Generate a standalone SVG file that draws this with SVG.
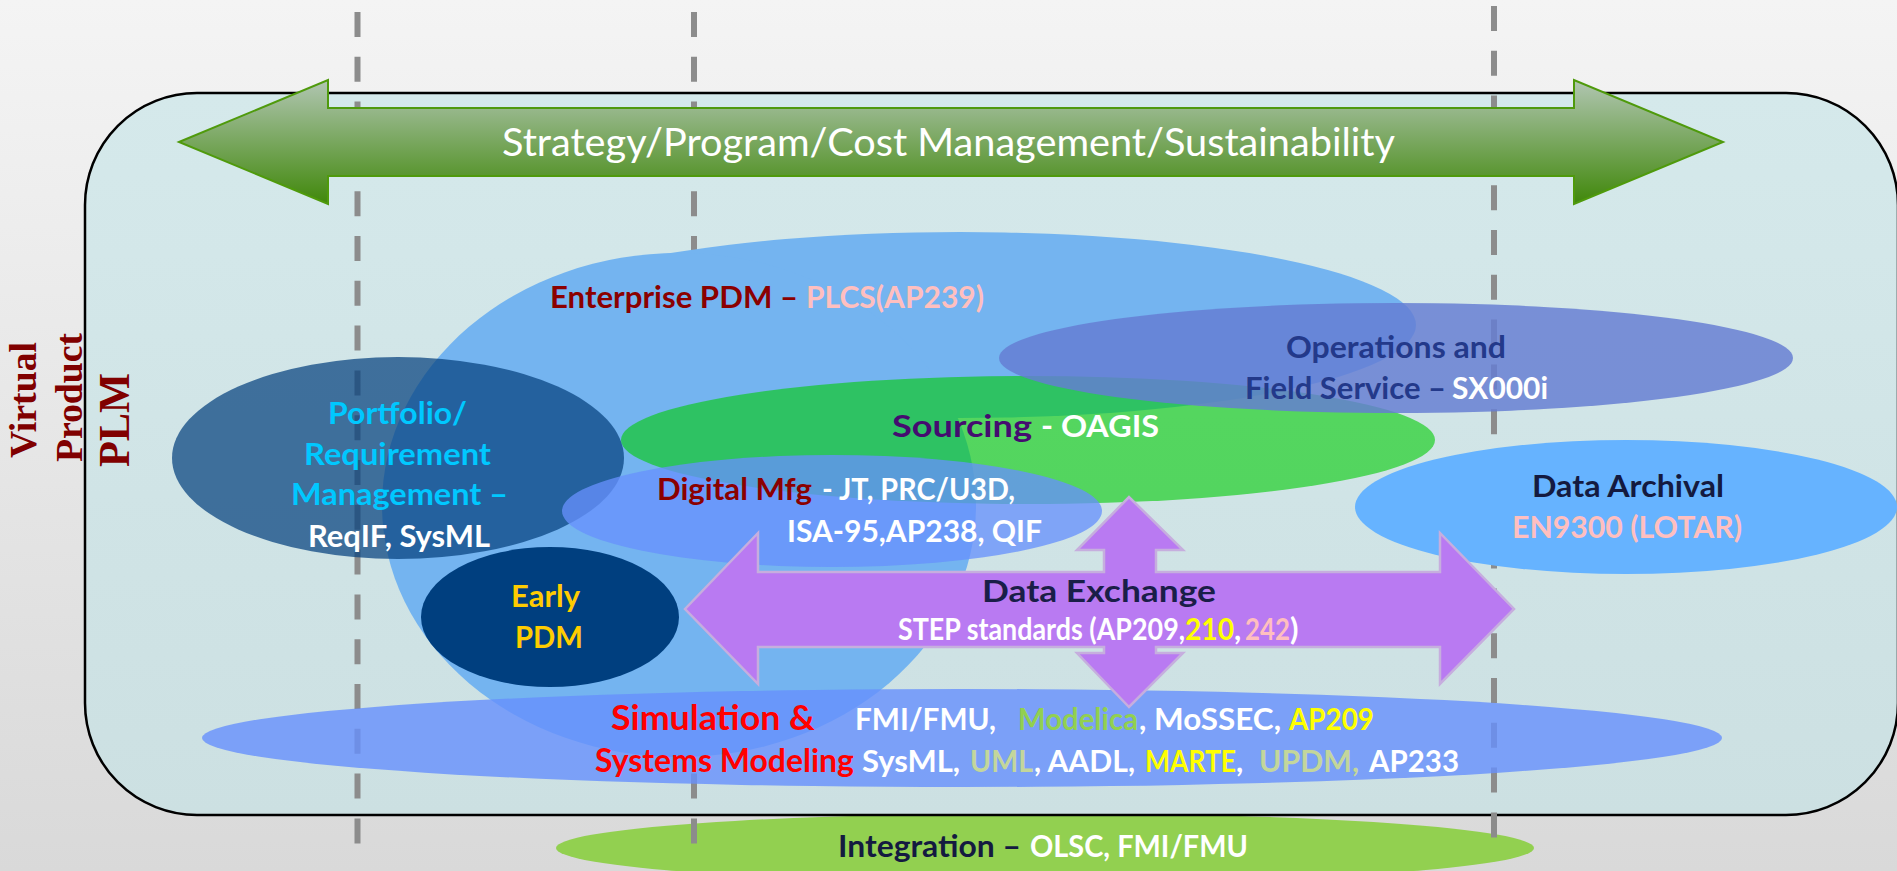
<svg xmlns="http://www.w3.org/2000/svg" width="1897" height="871" viewBox="0 0 1897 871">
<defs>
  <linearGradient id="bg" x1="0" y1="0" x2="0" y2="1">
    <stop offset="0" stop-color="#f4f4f4"/>
    <stop offset="1" stop-color="#d9d9d9"/>
  </linearGradient>
  <linearGradient id="panel" x1="0" y1="0" x2="0" y2="1">
    <stop offset="0" stop-color="#d5e9eb"/>
    <stop offset="1" stop-color="#cce0e2"/>
  </linearGradient>
  <linearGradient id="garrow" x1="0" y1="80" x2="0" y2="204" gradientUnits="userSpaceOnUse">
    <stop offset="0" stop-color="#b1c6b2"/>
    <stop offset="1" stop-color="#40880a"/>
  </linearGradient>
  <style>
    .dash { stroke:#8c8c8c; stroke-width:6; stroke-dasharray:25 19.8; fill:none; }
    .t { font-family: Lato, "Open Sans", "Liberation Sans", sans-serif; font-weight:700; font-size:31px; }
    .serif { font-family: "Liberation Serif", "DejaVu Serif", serif; font-weight:700; fill:#800000; }
    .w { fill:#ffffff; }
    .dred { fill:#8b0000; }
    .pink { fill:#ffbfbf; }
    .cyan { fill:#00c8ff; }
    .gold { fill:#ffcc00; }
    .navy { fill:#141a40; }
    .red { fill:#ff0000; }
    .yel { fill:#ffff00; }
    .lg { fill:#92d050; }
    .olive { fill:#c3d69b; }
  </style>
</defs>

<rect x="0" y="0" width="1897" height="871" fill="url(#bg)"/>

<g id="integration-shape">
  <ellipse cx="1045" cy="848" rx="489" ry="35" fill="#92d050"/>
</g>

<g id="panel-frame">
  <rect x="85" y="93" width="1813" height="722" rx="112" ry="112" fill="url(#panel)" stroke="#000" stroke-width="2.5"/>
</g>

<g id="dividers">
  <line class="dash" x1="357.5" y1="12" x2="357.5" y2="846"/>
  <line class="dash" x1="694" y1="12" x2="694" y2="846"/>
  <line class="dash" x1="1494" y1="6" x2="1494" y2="840"/>
</g>

<g id="side-labels">
  <text class="serif" font-size="38" transform="translate(36,458) rotate(-90)" textLength="116" lengthAdjust="spacingAndGlyphs">Virtual</text>
  <text class="serif" font-size="38" transform="translate(82,462) rotate(-90)" textLength="129" lengthAdjust="spacingAndGlyphs">Product</text>
  <text class="serif" font-size="44" transform="translate(129,467) rotate(-90)" textLength="94" lengthAdjust="spacingAndGlyphs">PLM</text>
</g>

<g id="enterprise-pdm">
  <ellipse cx="960" cy="325" rx="456" ry="93" fill="#74b4f0"/>
  <ellipse cx="679" cy="505" rx="297" ry="252" fill="#74b4f0"/>
  <text class="t" y="308" font-size="30"><tspan class="dred" x="550" textLength="248" lengthAdjust="spacingAndGlyphs">Enterprise PDM –</tspan><tspan class="pink" x="806" textLength="178" lengthAdjust="spacingAndGlyphs">PLCS(AP239)</tspan></text>
</g>

<g id="portfolio">
  <ellipse cx="398" cy="458" rx="226" ry="101" fill="#05417e" fill-opacity="0.72"/>
  <text class="t cyan" x="328" y="424" textLength="139" lengthAdjust="spacingAndGlyphs">Portfolio/</text>
  <text class="t cyan" x="304" y="465" textLength="187" lengthAdjust="spacingAndGlyphs">Requirement</text>
  <text class="t cyan" x="291" y="505" textLength="217" lengthAdjust="spacingAndGlyphs">Management –</text>
  <text class="t w" x="308" y="547" textLength="182" lengthAdjust="spacingAndGlyphs">ReqIF, SysML</text>
</g>

<g id="sourcing">
  <ellipse cx="1028" cy="440" rx="407" ry="64" fill="#00cc05" fill-opacity="0.6"/>
  <text class="t" y="437" font-size="35"><tspan x="892" fill="#450c70" textLength="140" lengthAdjust="spacingAndGlyphs">Sourcing</tspan><tspan class="w" x="1041" textLength="118" lengthAdjust="spacingAndGlyphs">- OAGIS</tspan></text>
</g>

<g id="operations">
  <ellipse cx="1396" cy="358" rx="397" ry="55" fill="#657dd2" fill-opacity="0.83"/>
  <text class="t" x="1286" y="358" fill="#23398a" textLength="220" lengthAdjust="spacingAndGlyphs">Operations and</text>
  <text class="t" y="399"><tspan x="1245" fill="#23398a" textLength="201" lengthAdjust="spacingAndGlyphs">Field Service –</tspan><tspan class="w" x="1452" textLength="96" lengthAdjust="spacingAndGlyphs">SX000i</tspan></text>
</g>

<g id="digital-mfg">
  <ellipse cx="832" cy="511" rx="270" ry="56" fill="#6791fd" fill-opacity="0.77"/>
  <text class="t" y="500"><tspan class="dred" x="657" textLength="155" lengthAdjust="spacingAndGlyphs">Digital Mfg</tspan><tspan class="w" x="822" textLength="193" lengthAdjust="spacingAndGlyphs">- JT, PRC/U3D,</tspan></text>
  <text class="t w" x="787" y="542" textLength="255" lengthAdjust="spacingAndGlyphs">ISA-95,AP238, QIF</text>
</g>

<g id="early-pdm">
  <ellipse cx="550" cy="617" rx="129" ry="70" fill="#003f7f"/>
  <text class="t gold" x="511" y="607" textLength="69" lengthAdjust="spacingAndGlyphs">Early</text>
  <text class="t gold" x="515" y="648" textLength="68" lengthAdjust="spacingAndGlyphs">PDM</text>
</g>

<g id="data-archival">
  <ellipse cx="1626" cy="507" rx="271" ry="67" fill="#66b3ff"/>
  <text class="t navy" x="1532" y="497" textLength="192" lengthAdjust="spacingAndGlyphs">Data Archival</text>
  <text class="t pink" x="1512" y="538" textLength="230" lengthAdjust="spacingAndGlyphs">EN9300 (LOTAR)</text>
</g>

<g id="simulation">
  <ellipse cx="962" cy="738" rx="760" ry="49" fill="#6690fd" fill-opacity="0.8"/>
  <text class="t" y="730"><tspan class="red" x="611" font-size="34" textLength="204" lengthAdjust="spacingAndGlyphs">Simulation &amp;</tspan><tspan class="w" x="855" textLength="141" lengthAdjust="spacingAndGlyphs">FMI/FMU,</tspan><tspan class="lg" x="1018" textLength="120" lengthAdjust="spacingAndGlyphs">Modelica</tspan><tspan class="w" x="1139" textLength="142" lengthAdjust="spacingAndGlyphs">, MoSSEC,</tspan><tspan class="yel" x="1289" textLength="85" lengthAdjust="spacingAndGlyphs">AP209</tspan></text>
  <text class="t" y="772"><tspan class="red" x="595" font-size="33" textLength="259" lengthAdjust="spacingAndGlyphs">Systems Modeling</tspan><tspan class="w" x="862" textLength="98" lengthAdjust="spacingAndGlyphs">SysML,</tspan><tspan class="olive" x="970" textLength="63" lengthAdjust="spacingAndGlyphs">UML</tspan><tspan class="w" x="1034" textLength="101" lengthAdjust="spacingAndGlyphs">, AADL,</tspan><tspan class="yel" x="1145" textLength="91" lengthAdjust="spacingAndGlyphs">MARTE</tspan><tspan class="w">,</tspan><tspan class="olive" x="1259" textLength="100" lengthAdjust="spacingAndGlyphs">UPDM,</tspan><tspan class="w" x="1369" textLength="90" lengthAdjust="spacingAndGlyphs">AP233</tspan></text>
</g>

<g id="data-exchange">
  <polygon points="685,609 758,533 758,572 1104,572 1104,550 1077,550 1129,497 1183,550 1156,550 1156,572 1440,572 1440,533 1514,609 1440,684 1440,647 1156,647 1156,653 1183,653 1129,707 1077,653 1104,653 1104,647 758,647 758,684" fill="#b97af2" stroke="#c6aede" stroke-width="2.5" stroke-linejoin="miter"/>
  <text class="t" x="982" y="602" font-size="34" fill="#1a1e48" textLength="234" lengthAdjust="spacingAndGlyphs">Data Exchange</text>
  <text class="t" y="640" font-size="24"><tspan class="w" x="898" textLength="287" lengthAdjust="spacingAndGlyphs">STEP standards (AP209,</tspan><tspan class="yel" x="1185" textLength="49" lengthAdjust="spacingAndGlyphs">210</tspan><tspan class="w">,</tspan><tspan class="pink" x="1245" textLength="45" lengthAdjust="spacingAndGlyphs">242</tspan><tspan class="w">)</tspan></text>
</g>

<g id="integration-label">
  <text class="t" y="857"><tspan class="navy" x="838" textLength="183" lengthAdjust="spacingAndGlyphs">Integration –</tspan><tspan class="w" x="1030" textLength="218" lengthAdjust="spacingAndGlyphs">OLSC, FMI/FMU</tspan></text>
</g>

<g id="strategy">
  <polygon points="179,142 328,80 328,108 1574,108 1574,80 1723,142 1574,204 1574,176 328,176 328,204" fill="url(#garrow)" stroke="#4f9a0c" stroke-width="2"/>
  <text x="502" y="156" fill="#ffffff" font-family="Lato, 'Open Sans', sans-serif" font-size="39" textLength="893" lengthAdjust="spacingAndGlyphs">Strategy/Program/Cost Management/Sustainability</text>
</g>
</svg>
